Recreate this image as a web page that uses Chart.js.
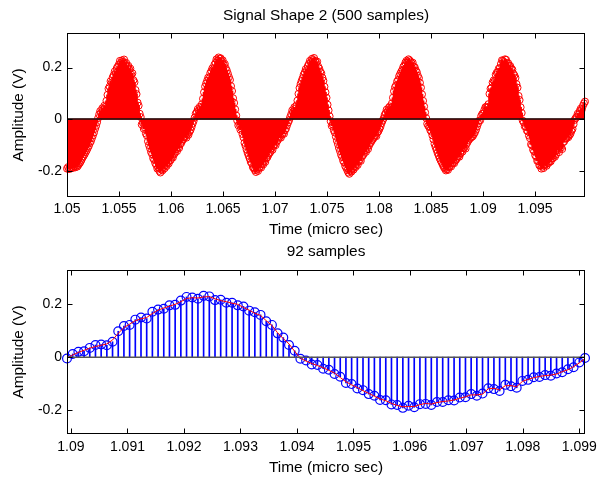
<!DOCTYPE html>
<html>
<head>
<meta charset="utf-8">
<script src="https://cdn.jsdelivr.net/npm/chart.js@4.4.1/dist/chart.umd.min.js"></script>
<style>
    html, body { margin: 0; padding: 0; background: #fff; }
    #wrap { position: relative; width: 599px; height: 480px; }
    canvas { position: absolute; left: 0; }
    #topChart { top: 0; }
    #bottomChart { top: 240px; }
</style>
</head>
<body>
<div id="wrap">
    <canvas id="topChart" width="599" height="240"></canvas>
    <canvas id="bottomChart" width="599" height="240"></canvas>
</div>
<script>
const topTitle = 'Signal Shape 2 (500 samples)';
const bottomTitle = '92 samples';
const xLabel = 'Time (micro sec)';
const yLabel = 'Amplitude (V)';

// time span covered by the samples (first, last)
const topTimeSpan = [1.05, 1.0998];
const bottomTimeSpan = [1.08993, 1.0991];

const topXTicks = [1.05, 1.055, 1.06, 1.065, 1.07, 1.075, 1.08, 1.085, 1.09, 1.095];
const topXLabels = ['1.05', '1.055', '1.06', '1.065', '1.07', '1.075', '1.08', '1.085', '1.09', '1.095'];
const bottomXTicks = [1.09, 1.091, 1.092, 1.093, 1.094, 1.095, 1.096, 1.097, 1.098, 1.099];
const bottomXLabels = ['1.09', '1.091', '1.092', '1.093', '1.094', '1.095', '1.096', '1.097', '1.098', '1.099'];

const yTicks = [-0.2, 0, 0.2];
const yTickLabels = ['-0.2', '0', '0.2'];
const topYRange = [-0.302, 0.334];
const bottomYRange = [-0.291, 0.330];

const topValues = [
    -0.192, -0.186, -0.194, -0.188, -0.191, -0.185, -0.189, -0.183, -0.187, -0.181,
    -0.184, -0.178, -0.172, -0.166, -0.158, -0.149, -0.143, -0.136, -0.128, -0.121,
    -0.112, -0.104, -0.093, -0.086, -0.074, -0.063, -0.052, -0.038, -0.026, -0.012,

    0.004, 0.018, 0.031, 0.026, 0.042, 0.038, 0.052, 0.047, 0.071, 0.094,
    0.118, 0.126, 0.147, 0.141, 0.162, 0.171, 0.185, 0.179, 0.198, 0.204,
    0.212, 0.226, 0.219, 0.228, 0.222, 0.231, 0.214, 0.218, 0.203, 0.207,
    0.192, 0.196, 0.172, 0.178, 0.151, 0.143, 0.113, 0.097, 0.064, 0.052,
    0.021, 0.008, -0.021, -0.014, -0.038, -0.033, -0.056, -0.064, -0.086, -0.101,
    -0.113, -0.128, -0.136, -0.152, -0.158, -0.171, -0.178, -0.192, -0.188, -0.201,
    -0.207, -0.196, -0.199, -0.186, -0.191, -0.178, -0.182, -0.168, -0.172, -0.161,
    -0.158, -0.146, -0.149, -0.137, -0.131, -0.118, -0.124, -0.109, -0.112, -0.097,
    -0.093, -0.084, -0.078, -0.071, -0.066, -0.072, -0.058, -0.061, -0.049, -0.042,
    -0.031, -0.018, -0.007,

    0.006, 0.021, 0.027, 0.039, 0.034, 0.048, 0.043, 0.058, 0.079, 0.104,
    0.126, 0.138, 0.149, 0.161, 0.158, 0.178, 0.186, 0.197, 0.193, 0.211,
    0.218, 0.232, 0.227, 0.239, 0.234, 0.236, 0.224, 0.228, 0.211, 0.214,
    0.197, 0.188, 0.176, 0.163, 0.152, 0.128, 0.109, 0.081, 0.063, 0.038,
    0.014, -0.006, -0.024, -0.019, -0.041, -0.036, -0.058, -0.071, -0.092, -0.104,
    -0.118, -0.131, -0.142, -0.153, -0.166, -0.172, -0.186, -0.191, -0.198, -0.205,
    -0.196, -0.201, -0.189, -0.184, -0.188, -0.173, -0.176, -0.162, -0.166, -0.151,
    -0.148, -0.139, -0.132, -0.127, -0.114, -0.119, -0.104, -0.097, -0.101, -0.088,
    -0.082, -0.073, -0.068, -0.072, -0.061, -0.054, -0.057, -0.043, -0.036, -0.024,
    -0.013, -0.004,

    0.008, 0.019, 0.034, 0.029, 0.046, 0.041, 0.053, 0.072, 0.098, 0.121,
    0.136, 0.148, 0.159, 0.172, 0.181, 0.194, 0.189, 0.206, 0.214, 0.226,
    0.221, 0.234, 0.229, 0.237, 0.226, 0.219, 0.223, 0.204, 0.196, 0.184,
    0.178, 0.161, 0.149, 0.126, 0.104, 0.083, 0.056, 0.034, 0.011, -0.008,
    -0.026, -0.021, -0.043, -0.052, -0.068, -0.084, -0.097, -0.112, -0.124, -0.138,
    -0.147, -0.161, -0.168, -0.182, -0.189, -0.198, -0.207, -0.212, -0.201, -0.204,
    -0.192, -0.196, -0.183, -0.186, -0.174, -0.178, -0.163, -0.158, -0.162, -0.146,
    -0.141, -0.134, -0.122, -0.127, -0.111, -0.116, -0.102, -0.094, -0.088, -0.081,
    -0.076, -0.069, -0.063, -0.066, -0.052, -0.047, -0.038, -0.029, -0.016, -0.006,

    0.003, 0.016, 0.024, 0.037, 0.031, 0.044, 0.049, 0.042, 0.061, 0.083,
    0.108, 0.124, 0.131, 0.146, 0.152, 0.167, 0.176, 0.184, 0.191, 0.203,
    0.208, 0.219, 0.226, 0.221, 0.232, 0.228, 0.223, 0.216, 0.219, 0.204,
    0.201, 0.189, 0.182, 0.168, 0.159, 0.141, 0.122, 0.096, 0.071, 0.049,
    0.026, 0.004, -0.018, -0.026, -0.031, -0.043, -0.049, -0.063, -0.079, -0.096,
    -0.108, -0.119, -0.131, -0.141, -0.152, -0.161, -0.169, -0.178, -0.186, -0.192,
    -0.199, -0.194, -0.197, -0.186, -0.181, -0.184, -0.173, -0.169, -0.171, -0.161,
    -0.157, -0.149, -0.143, -0.146, -0.134, -0.122, -0.126, -0.113, -0.109, -0.114,
    -0.096, -0.088, -0.081, -0.076, -0.072, -0.069, -0.066, -0.058, -0.051, -0.041,
    -0.029, -0.017, -0.006,

    -0.005, 0.012, 0.020, 0.022, 0.035, 0.046, 0.048, 0.045, 0.058, 0.098,
    0.118, 0.122, 0.142, 0.150, 0.146, 0.172, 0.180, 0.183, 0.196, 0.198,
    0.214, 0.228, 0.226, 0.221, 0.232, 0.230, 0.216, 0.217, 0.206, 0.206,
    0.196, 0.192, 0.176, 0.170, 0.160, 0.136, 0.122, 0.090, 0.074, 0.046,
    0.024, -0.006, -0.013, -0.028, -0.030, -0.044, -0.048, -0.064, -0.074, -0.098,
    -0.102, -0.119, -0.125, -0.140, -0.146, -0.162, -0.163, -0.179, -0.181, -0.192,
    -0.184, -0.190, -0.178, -0.177, -0.181, -0.170, -0.170, -0.163, -0.164, -0.153,
    -0.152, -0.140, -0.146, -0.138, -0.118, -0.121, -0.128, -0.105, -0.110, -0.116,
    -0.090, -0.086, -0.076, -0.075, -0.068, -0.070, -0.062, -0.057, -0.046, -0.038,
    -0.020, -0.003, 0.004,

    0.009, 0.021, 0.018, 0.032, 0.041, 0.038, 0.052, 0.061, 0.068
];

const bottomValues = [
    -0.005, 0.012, 0.020, 0.022, 0.035, 0.046, 0.048, 0.045, 0.058, 0.098,
    0.118, 0.122, 0.142, 0.150, 0.146, 0.172, 0.180, 0.183, 0.196, 0.198,
    0.214, 0.228, 0.226, 0.221, 0.232, 0.230, 0.216, 0.217, 0.206, 0.206,
    0.196, 0.192, 0.176, 0.170, 0.160, 0.136, 0.122, 0.090, 0.074, 0.046,
    0.024, -0.006, -0.013, -0.028, -0.030, -0.044, -0.048, -0.064, -0.074, -0.098,
    -0.102, -0.119, -0.125, -0.140, -0.146, -0.162, -0.163, -0.179, -0.181, -0.192,
    -0.184, -0.190, -0.178, -0.177, -0.181, -0.170, -0.170, -0.163, -0.164, -0.153,
    -0.152, -0.140, -0.146, -0.138, -0.118, -0.121, -0.128, -0.105, -0.110, -0.116,
    -0.090, -0.086, -0.076, -0.075, -0.068, -0.070, -0.062, -0.057, -0.046, -0.038,
    -0.020, -0.003
];

// red curve through the 92 samples
const bottomTrend = [
    -0.003, 0.008, 0.018, 0.026, 0.034, 0.040, 0.045, 0.050, 0.065, 0.090,
    0.112, 0.125, 0.138, 0.145, 0.150, 0.165, 0.178, 0.186, 0.193, 0.200,
    0.210, 0.222, 0.225, 0.224, 0.228, 0.229, 0.221, 0.214, 0.210, 0.204,
    0.200, 0.188, 0.178, 0.166, 0.158, 0.138, 0.120, 0.092, 0.070, 0.050,
    0.022, -0.004, -0.015, -0.024, -0.032, -0.040, -0.050, -0.060, -0.077, -0.093,
    -0.105, -0.115, -0.127, -0.137, -0.148, -0.158, -0.165, -0.175, -0.183, -0.188,
    -0.187, -0.187, -0.180, -0.175, -0.178, -0.172, -0.168, -0.166, -0.162, -0.156,
    -0.150, -0.143, -0.143, -0.140, -0.120, -0.118, -0.124, -0.108, -0.108, -0.112,
    -0.092, -0.084, -0.078, -0.073, -0.070, -0.068, -0.064, -0.055, -0.048, -0.036,
    -0.022, -0.005
];

Chart.defaults.font.family = '"Liberation Sans", Arial, sans-serif';
Chart.defaults.font.size = 14;
Chart.defaults.color = '#000';

// matlab style frame: box, inward ticks on all sides, stem baseline
const matlabBox = {
    id: 'matlabBox',
    afterDatasetsDraw(chart, args, opts) {
        const { ctx, chartArea: a, scales: { x, y } } = chart;
        const L = Math.round(a.left) + 0.5, R = Math.round(a.right) - 0.5;
        const T = Math.round(a.top) + 0.5, B = Math.round(a.bottom) - 0.5;
        const line = (x1, y1, x2, y2) => { ctx.beginPath(); ctx.moveTo(x1, y1); ctx.lineTo(x2, y2); ctx.stroke(); };
        ctx.save();
        ctx.strokeStyle = opts.baseColor;
        ctx.lineWidth = 1.5;
        const y0 = y.getPixelForValue(0);
        line(L, y0, R, y0);
        ctx.strokeStyle = '#000';
        ctx.lineWidth = 1;
        ctx.strokeRect(L, T, R - L, B - T);
        x.ticks.forEach(t => {
            const px = Math.round(x.getPixelForValue(t.value)) + 0.5;
            line(px, B, px, B - 5);
            line(px, T, px, T + 5);
        });
        y.ticks.forEach(t => {
            const py = Math.round(y.getPixelForValue(t.value)) + 0.5;
            line(L, py, L + 5, py);
            line(R, py, R - 5, py);
        });
        ctx.restore();
    }
};

function sampleTimes(span, n) {
    return Array.from({ length: n }, (_, i) => span[0] + i * (span[1] - span[0]) / (n - 1));
}

function stemChart(id, cfg) {
    const times = sampleTimes(cfg.span, cfg.values.length);
    const pts = cfg.values.map((v, i) => ({ x: times[i], y: v }));
    const datasets = [
        {
            type: 'bar',
            data: pts,
            backgroundColor: cfg.color,
            borderWidth: 0,
            barThickness: cfg.stemWidth,
            order: 3
        },
        {
            type: 'line',
            data: pts,
            showLine: false,
            pointStyle: 'circle',
            pointRadius: cfg.radius,
            pointBorderWidth: cfg.ring,
            pointBorderColor: cfg.color,
            pointBackgroundColor: 'rgba(0,0,0,0)',
            clip: false,
            order: 2
        }
    ];
    if (cfg.trend) {
        datasets.push({
            type: 'line',
            data: cfg.trend.map((v, i) => ({ x: times[i], y: v })),
            borderColor: '#ff0000',
            borderWidth: 1,
            pointRadius: 0,
            tension: 0,
            order: 1
        });
    }

    new Chart(document.getElementById(id), {
        type: 'bar',
        data: { datasets },
        plugins: [matlabBox],
        options: {
            responsive: false,
            animation: false,
            events: [],
            layout: { padding: { left: 0, right: 14, top: 0, bottom: 0 } },
            plugins: {
                legend: { display: false },
                tooltip: { enabled: false },
                title: {
                    display: true,
                    fullSize: false,
                    text: cfg.title,
                    color: '#000',
                    font: { size: 15.4, weight: 'normal' },
                    padding: cfg.titlePad
                },
                matlabBox: { baseColor: cfg.baseColor }
            },
            scales: {
                x: {
                    type: 'linear',
                    min: cfg.span[0],
                    max: cfg.span[1],
                    offset: false,
                    grid: { display: false, drawTicks: false },
                    border: { display: false },
                    afterBuildTicks: s => { s.ticks = cfg.xTicks.map(v => ({ value: v })); },
                    afterFit: s => { s.height = cfg.xAxisHeight; s.paddingLeft = 0; s.paddingRight = 0; },
                    ticks: {
                        autoSkip: false,
                        maxRotation: 0,
                        padding: cfg.xTickPad,
                        callback: (v, i) => cfg.xLabels[i]
                    },
                    title: {
                        display: true,
                        text: xLabel,
                        font: { size: 15.4 },
                        padding: { top: 0, bottom: cfg.xTitlePad }
                    }
                },
                y: {
                    type: 'linear',
                    min: cfg.yRange[0],
                    max: cfg.yRange[1],
                    grid: { display: false, drawTicks: false },
                    border: { display: false },
                    afterBuildTicks: s => { s.ticks = yTicks.map(v => ({ value: v })); },
                    afterFit: s => { s.width = 67; s.paddingTop = 0; s.paddingBottom = 0; },
                    ticks: {
                        autoSkip: false,
                        padding: 5,
                        callback: (v, i) => yTickLabels[i]
                    },
                    title: {
                        display: true,
                        text: yLabel,
                        font: { size: 15.4 },
                        padding: { top: 10, bottom: 0 }
                    }
                }
            }
        }
    });
}

stemChart('topChart', {
    title: topTitle,
    titlePad: { top: 7, bottom: 7.5 },
    values: topValues,
    span: topTimeSpan,
    xTicks: topXTicks,
    xLabels: topXLabels,
    yRange: topYRange,
    color: '#ff0000',
    stemWidth: 2,
    radius: 3.5,
    ring: 1,
    baseColor: '#111',
    xAxisHeight: 43,
    xTickPad: 4,
    xTitlePad: 1
});

stemChart('bottomChart', {
    title: bottomTitle,
    titlePad: { top: 3, bottom: 8.5 },
    values: bottomValues,
    trend: bottomTrend,
    span: bottomTimeSpan,
    xTicks: bottomXTicks,
    xLabels: bottomXLabels,
    yRange: bottomYRange,
    color: '#0000ff',
    stemWidth: 1,
    radius: 4.4,
    ring: 1.2,
    baseColor: '#555',
    xAxisHeight: 46,
    xTickPad: 5,
    xTitlePad: 3
});
</script>
</body>
</html>
